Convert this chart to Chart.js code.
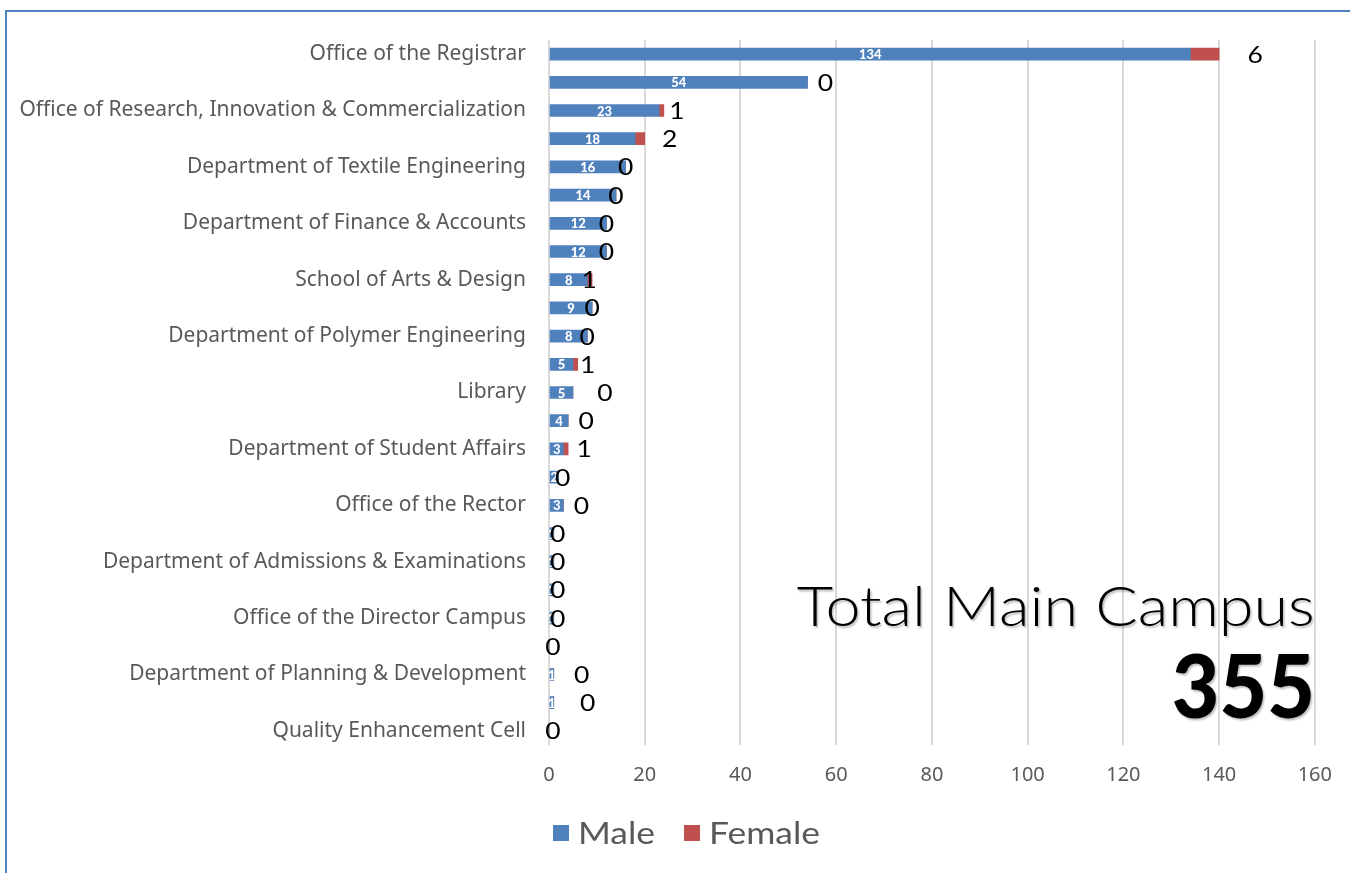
<!DOCTYPE html>
<html>
<head>
<meta charset="utf-8">
<script src="https://cdn.jsdelivr.net/npm/chart.js@4.4.1/dist/chart.umd.min.js"></script>
<style>
  html,body{margin:0;padding:0;background:#fff;overflow:hidden;}
  #frame{position:absolute;left:5px;top:10px;width:1360px;height:880px;border-top:2px solid #4F81BD;border-left:2px solid #4F81BD;}
  #wrap{position:absolute;left:0;top:0;width:1350px;height:873px;}
</style>
</head>
<body>
<div id="frame"></div>
<div id="wrap"><canvas id="c" width="1350" height="873"></canvas></div>
<script>
const categories = [
  'Office of the Registrar', '',
  'Office of Research, Innovation & Commercialization', '',
  'Department of Textile Engineering', '',
  'Department of Finance & Accounts', '',
  'School of Arts & Design', '',
  'Department of Polymer Engineering', '',
  'Library', '',
  'Department of Student Affairs', '',
  'Office of the Rector', '',
  'Department of Admissions & Examinations', '',
  'Office of the Director Campus', '',
  'Department of Planning & Development', '',
  'Quality Enhancement Cell'
];
const male   = [134, 54, 23, 18, 16, 14, 12, 12, 8, 9, 8, 5, 5, 4, 3, 2, 3, 1, 1, 1, 1, 0, 1, 1, 0];
const female = [6, 0, 1, 2, 0, 0, 0, 0, 1, 0, 0, 1, 0, 0, 1, 0, 0, 0, 0, 0, 0, 0, 0, 0, 0];
const xTicks = [0, 20, 40, 60, 80, 100, 120, 140, 160];
const totalTitle = 'Total Main Campus';
const totalValue = '355';

// pixel nudges of the female value labels (as placed in the reference)
const femaleLabelShift = [36, 18, 13, 25, 0, 0, 0, 0, -3, 0, 0, 10, 32, 18, 16, 4, 18, 4, 4, 4, 4, 4, 28, 34, 4];

const valuePlugin = {
  id: 'valuePlugin',
  afterDatasetsDraw(chart) {
    const ctx = chart.ctx;
    ctx.save();
    ctx.textBaseline = 'middle';
    ctx.textAlign = 'center';
    const mMeta = chart.getDatasetMeta(0);
    ctx.fillStyle = '#ffffff';
    ctx.font = '900 13px Lato, "Open Sans", sans-serif';
    mMeta.data.forEach((bar, i) => {
      const v = chart.data.datasets[0].data[i];
      if (v > 0) ctx.fillText(String(v), (bar.x + bar.base) / 2, bar.y + 1);
    });
    const fMeta = chart.getDatasetMeta(1);
    ctx.fillStyle = '#000000';
    ctx.font = '23px Lato, "Open Sans", sans-serif';
    fMeta.data.forEach((bar, i) => {
      const v = chart.data.datasets[1].data[i];
      ctx.save();
      ctx.translate(bar.x + femaleLabelShift[i], bar.y + 1);
      ctx.scale(1.15, 1);
      ctx.fillText(String(v), 0, 0);
      ctx.restore();
    });
    ctx.restore();
  },
  afterDraw(chart) {
    const ctx = chart.ctx;
    const right = chart.chartArea.right;
    ctx.save();
    ctx.textAlign = 'right';
    ctx.textBaseline = 'alphabetic';
    ctx.shadowColor = 'rgba(0,0,0,0.25)';
    ctx.shadowBlur = 2; ctx.shadowOffsetX = 1.5; ctx.shadowOffsetY = 1.5;
    ctx.fillStyle = '#000';
    ctx.font = '300 56px Lato, "Open Sans", sans-serif';
    let w = ctx.measureText(totalTitle).width;
    let sx = 518 / w;
    ctx.save();
    ctx.translate(right, 626);
    ctx.scale(sx, 1);
    ctx.fillText(totalTitle, 0, 0);
    ctx.restore();
    ctx.font = '900 88px Lato, "Open Sans", sans-serif';
    w = ctx.measureText(totalValue).width;
    sx = 143 / w;
    ctx.save();
    ctx.translate(right, 718);
    ctx.scale(sx, 1);
    ctx.fillText(totalValue, 0, 0);
    ctx.restore();
    ctx.restore();

    // Legend
    ctx.save();
    ctx.textAlign = 'left';
    ctx.textBaseline = 'middle';
    ctx.font = '30px Lato, "Open Sans", sans-serif';
    const lsx = 77 / ctx.measureText(chart.data.datasets[0].label).width;
    let x = 553;
    const y = 833;
    chart.data.datasets.forEach((ds) => {
      ctx.fillStyle = ds.backgroundColor;
      ctx.fillRect(x, y - 8, 16, 16);
      x += 25;
      ctx.fillStyle = '#595959';
      ctx.save();
      ctx.translate(x, y + 1);
      ctx.scale(lsx, 1);
      ctx.fillText(ds.label, 0, 0);
      ctx.restore();
      x += ctx.measureText(ds.label).width * lsx + 29;
    });
    ctx.restore();
  }
};

new Chart(document.getElementById('c'), {
  type: 'bar',
  data: {
    labels: categories,
    datasets: [
      { label: 'Male', data: male, backgroundColor: '#4F81BD', barThickness: 12 },
      { label: 'Female', data: female, backgroundColor: '#C0504D', barThickness: 12 }
    ]
  },
  options: {
    indexAxis: 'y',
    responsive: false,
    animation: false,
    layout: { padding: { top: 40, right: 35, left: 0, bottom: 68 } },
    plugins: { legend: { display: false }, tooltip: { enabled: false } },
    scales: {
      x: {
        stacked: true,
        min: 0, max: 160,
        afterBuildTicks(scale) { scale.ticks = xTicks.map(v => ({ value: v })); },
        afterFit(scale) { scale.height = 60; },
        grid: { color: '#D9D9D9', lineWidth: 2, drawTicks: false },
        border: { display: false },
        ticks: { color: '#595959', padding: 18, font: { family: '"Noto Sans", sans-serif', size: 20 } }
      },
      y: {
        stacked: true,
        afterFit(scale) { scale.width = 549; },
        grid: { display: false, drawTicks: false },
        border: { display: false },
        ticks: { autoSkip: false, color: '#595959', padding: 23, font: { family: '"Noto Sans", sans-serif', size: 21 } }
      }
    }
  },
  plugins: [valuePlugin]
});
</script>
</body>
</html>
